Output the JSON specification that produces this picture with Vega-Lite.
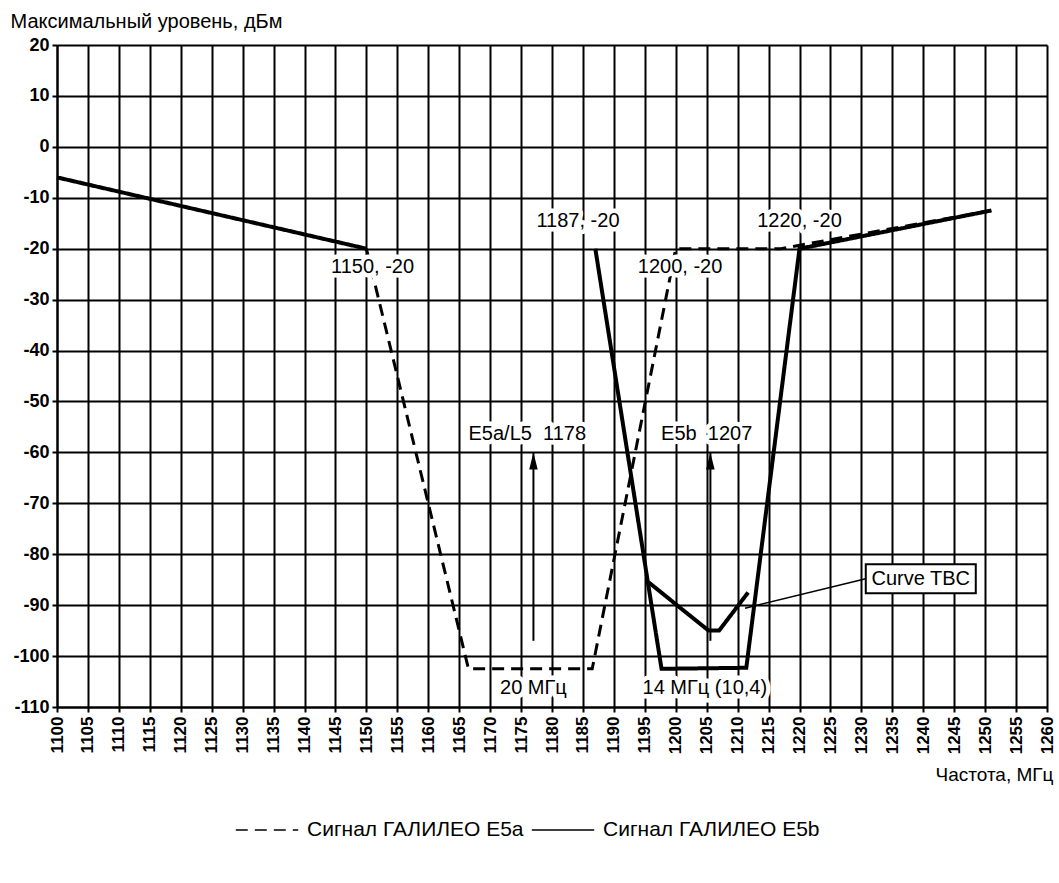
{
  "$schema": "https://vega.github.io/schema/vega-lite/v6.json",
  "width": 990,
  "height": 662,
  "autosize": {"type": "none"},
  "padding": {"left": 57, "top": 45, "right": 12, "bottom": 176},
  "background": "white",
  "config": {
    "font": "Liberation Sans",
    "view": {"stroke": null},
    "axis": {
      "grid": true, "gridColor": "black", "gridWidth": 2, "gridOpacity": 1,
      "domainColor": "black", "domainWidth": 2,
      "tickColor": "black", "tickSize": 5, "tickWidth": 2,
      "labelColor": "black", "labelFontSize": 17, "labelFontWeight": "bold",
      "titleColor": "black", "titleFontSize": 19, "titleFontWeight": "normal",
      "labelOverlap": false, "labelFlush": false,
      "labelExpr": "'' + datum.value"
    }
  },
  "datasets": {
    "curves": [
      {"series": "Сигнал ГАЛИЛЕО E5a", "seg": "a1", "f": 1150, "dbm": -20},
      {"series": "Сигнал ГАЛИЛЕО E5a", "seg": "a1", "f": 1166.5, "dbm": -102.5},
      {"series": "Сигнал ГАЛИЛЕО E5a", "seg": "a1", "f": 1186.5, "dbm": -102.5},
      {"series": "Сигнал ГАЛИЛЕО E5a", "seg": "a1", "f": 1200, "dbm": -20},
      {"series": "Сигнал ГАЛИЛЕО E5a", "seg": "a1", "f": 1217, "dbm": -20},
      {"series": "Сигнал ГАЛИЛЕО E5a", "seg": "a1", "f": 1251, "dbm": -12.5},
      {"series": "Сигнал ГАЛИЛЕО E5b", "seg": "b1", "f": 1100, "dbm": -6},
      {"series": "Сигнал ГАЛИЛЕО E5b", "seg": "b1", "f": 1150, "dbm": -20},
      {"series": "Сигнал ГАЛИЛЕО E5b", "seg": "b2", "f": 1187, "dbm": -20},
      {"series": "Сигнал ГАЛИЛЕО E5b", "seg": "b2", "f": 1197.7, "dbm": -102.5},
      {"series": "Сигнал ГАЛИЛЕО E5b", "seg": "b2", "f": 1211.4, "dbm": -102.3},
      {"series": "Сигнал ГАЛИЛЕО E5b", "seg": "b2", "f": 1220, "dbm": -20},
      {"series": "Сигнал ГАЛИЛЕО E5b", "seg": "b2", "f": 1251, "dbm": -12.5},
      {"series": "Сигнал ГАЛИЛЕО E5b", "seg": "b3", "f": 1195.6, "dbm": -85.5},
      {"series": "Сигнал ГАЛИЛЕО E5b", "seg": "b3", "f": 1205.3, "dbm": -95},
      {"series": "Сигнал ГАЛИЛЕО E5b", "seg": "b3", "f": 1207, "dbm": -95},
      {"series": "Сигнал ГАЛИЛЕО E5b", "seg": "b3", "f": 1211.7, "dbm": -87.5}
    ],
    "labels": [
      {"text": "1150, -20", "f": 1151, "dbm": -23.6},
      {"text": "1187, -20", "f": 1184.2, "dbm": -14.6},
      {"text": "1200, -20", "f": 1200.7, "dbm": -23.6},
      {"text": "1220, -20", "f": 1220, "dbm": -14.6},
      {"text": "E5a/L5\u00a0 1178", "f": 1176, "dbm": -56.4},
      {"text": "E5b\u00a0 1207", "f": 1205, "dbm": -56.4},
      {"text": "20 МГц", "f": 1177, "dbm": -106.2},
      {"text": "14 МГц (10,4)", "f": 1204.7, "dbm": -106.2}
    ],
    "arrows": [
      {"f": 1177, "from": -97, "to": -60},
      {"f": 1205.6, "from": -97, "to": -60}
    ],
    "leader": [
      {"f": 1211.2, "dbm": -90.6, "f2": 1230.7, "dbm2": -84.8}
    ],
    "box": [
      {"text": "Curve TBC", "f": 1239.6, "dbm": -84.8}
    ]
  },
  "encoding": {
    "x": {
      "field": "f", "type": "quantitative",
      "scale": {"domain": [1100, 1260], "nice": false, "zero": false},
      "axis": {
        "values": [1100,1105,1110,1115,1120,1125,1130,1135,1140,1145,1150,1155,1160,1165,1170,1175,1180,1185,1190,1195,1200,1205,1210,1215,1220,1225,1230,1235,1240,1245,1250,1255,1260],
        "labelAngle": -90, "labelPadding": 4,
        "title": "Частота, МГц", "titleAlign": "right", "titleX": 996, "titleY": 73, "titleBaseline": "alphabetic"
      }
    },
    "y": {
      "field": "dbm", "type": "quantitative",
      "scale": {"domain": [-110, 20], "nice": false, "zero": false},
      "axis": {
        "values": [-110,-100,-90,-80,-70,-60,-50,-40,-30,-20,-10,0,10,20],
        "labelPadding": 3, "labelFontSize": 18,
        "title": "Максимальный уровень, дБм", "titleAngle": 0, "titleAlign": "left",
        "titleX": -47, "titleY": -18, "titleBaseline": "alphabetic", "titleFontSize": 20
      }
    }
  },
  "layer": [
    {
      "data": {"name": "curves"},
      "transform": [{"filter": "datum.series === 'Сигнал ГАЛИЛЕО E5a'"}],
      "mark": {"type": "line", "color": "black", "strokeWidth": 3},
      "encoding": {
        "detail": {"field": "seg"},
        "strokeDash": {
          "field": "series", "type": "nominal",
          "scale": {"domain": ["Сигнал ГАЛИЛЕО E5a", "Сигнал ГАЛИЛЕО E5b"], "range": [[12, 7], [1, 0]]},
          "legend": {
            "orient": "none", "legendX": 178, "legendY": 753, "direction": "horizontal",
            "title": null, "symbolType": "stroke", "symbolSize": 3900,
            "symbolStrokeColor": "black", "symbolStrokeWidth": 1.5,
            "labelFontSize": 21, "labelColor": "black", "labelOffset": 8, "columnPadding": 4,
            "labelLimit": 0,
            "encode": {
              "symbols": {"update": {"strokeDash": {"signal": "datum.value === 'Сигнал ГАЛИЛЕО E5a' ? [6, 4] : [1, 0]"}}}
            }
          }
        }
      }
    },
    {
      "data": {"name": "curves"},
      "transform": [{"filter": "datum.series === 'Сигнал ГАЛИЛЕО E5b'"}],
      "mark": {"type": "line", "color": "black", "strokeWidth": 4},
      "encoding": {
        "detail": {"field": "seg"},
        "strokeDash": {"field": "series", "type": "nominal"}
      }
    },
    {
      "data": {"name": "arrows"},
      "mark": {"type": "rule", "color": "black", "strokeWidth": 2},
      "encoding": {
        "y": {"field": "from", "type": "quantitative"},
        "y2": {"field": "to"}
      }
    },
    {
      "data": {"name": "arrows"},
      "mark": {"type": "point", "shape": "M0,0L-0.25,1L0.25,1Z", "size": 1156, "filled": true, "color": "black", "opacity": 1},
      "encoding": {
        "y": {"field": "to", "type": "quantitative"}
      }
    },
    {
      "data": {"name": "labels"},
      "mark": {"type": "text", "fontSize": 20, "fill": "white", "stroke": "white", "strokeWidth": 9, "strokeJoin": "round"},
      "encoding": {"text": {"field": "text"}}
    },
    {
      "data": {"name": "labels"},
      "mark": {"type": "text", "fontSize": 20, "color": "black"},
      "encoding": {"text": {"field": "text"}}
    },
    {
      "data": {"name": "leader"},
      "mark": {"type": "rule", "color": "black", "strokeWidth": 1.5},
      "encoding": {
        "x2": {"field": "f2"},
        "y2": {"field": "dbm2"}
      }
    },
    {
      "data": {"name": "box"},
      "mark": {"type": "point", "shape": "M-1,-0.264H1V0.264H-1Z", "size": 12100, "filled": true, "fill": "white", "stroke": "black", "strokeWidth": 2, "opacity": 1},
      "encoding": {}
    },
    {
      "data": {"name": "box"},
      "mark": {"type": "text", "fontSize": 20, "color": "black"},
      "encoding": {"text": {"field": "text"}}
    }
  ]
}
